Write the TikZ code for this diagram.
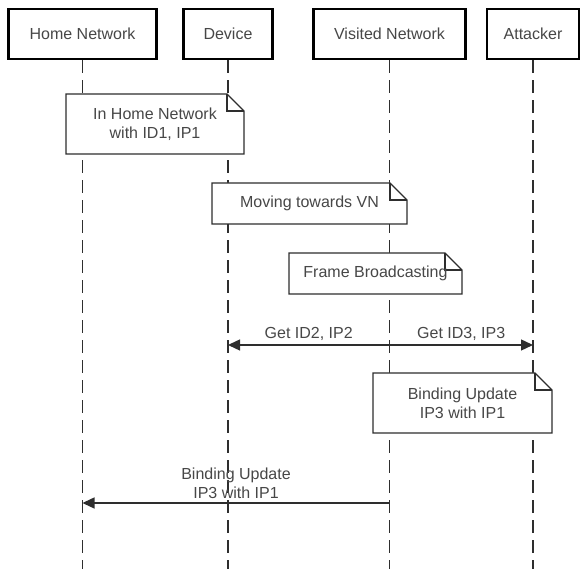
\documentclass[tikz,border=0pt]{standalone}
\usepackage{fontspec}
\setmainfont{Liberation Sans}
\usetikzlibrary{arrows.meta,calc}
\definecolor{linegray}{HTML}{2E2E2E}
\definecolor{txtgray}{HTML}{474747}
\newcommand\dognote[6]{%
  \filldraw[noteline,fill=white] (#2,#3) -- (#4-17,#3) -- (#4,#3+17) -- (#4,#5) -- (#2,#5) -- cycle;
  \draw[noteline] (#4-17,#3) -- (#4-17,#3+17) -- (#4,#3+17);
  \node[notebody] (#1) at ({(#2+#4)/2},{(#3+#5)/2}) {#6};}
\begin{document}
\begin{tikzpicture}[x=1pt,y=-1pt,
  txt/.style={font=\fontsize{16}{19}\selectfont, text=txtgray},
  actor/.style={draw=black, line width=2.3pt, fill=white, txt, inner sep=0pt, minimum height=50pt},
  life/.style={draw=linegray, line width=1.4pt, dash pattern=on 13pt off 7pt},
  msg/.style={draw=linegray, line width=1.4pt, -{Triangle[length=12pt,width=11pt]}},
  notebody/.style={txt, inner sep=0pt, align=center},
  noteline/.style={draw=linegray, line width=1.2pt},
  lbl/.style={txt, inner sep=0pt, align=center}]
\useasboundingbox (0,0) rectangle (582,569);

% actors
\node[actor, minimum width=148pt] (hn) at (82.5,34) {Home Network};
\node[actor, minimum width=89pt] (dev) at (228,34) {Device};
\node[actor, minimum width=152pt] (vn) at (389.5,34) {Visited Network};
\node[actor, minimum width=92pt] (att) at (533,34) {Attacker};

% lifelines
\coordinate (hnE) at (hn |- 0,569);
\coordinate (devE) at (dev |- 0,569);
\coordinate (vnE) at (vn |- 0,569);
\coordinate (attE) at (att |- 0,569);
\draw[life] (hn.south) -- (hnE);
\draw[life] (dev.south) -- (devE);
\draw[life] (vn.south) -- (vnE);
\draw[life] (att.south) -- (attE);

% notes
\dognote{n1}{66}{94}{244}{154}{In Home Network\\ with ID1, IP1}
\dognote{n2}{212}{183}{407}{224}{Moving towards VN}
\dognote{n3}{289}{253}{462}{294}{Frame Broadcasting}

% messages
\coordinate (m1s) at (vn |- 0,345);
\coordinate (m1d) at (dev |- 0,345);
\coordinate (m2d) at (att |- 0,345);
\draw[msg] (m1s) -- (m1d) node[midway, above=4pt, lbl] (l1) {Get ID2, IP2};
\draw[msg] (m1s) -- (m2d) node[midway, above=4pt, lbl] (l2) {Get ID3, IP3};

\dognote{n4}{373}{373}{552}{433}{Binding Update\\IP3 with IP1}

\coordinate (m3s) at (vn |- 0,503);
\coordinate (m3d) at (hn |- 0,503);
\draw[msg] (m3s) -- (m3d) node[midway, above=4pt, lbl] (l3) {Binding Update\\IP3 with IP1};
\end{tikzpicture}
\end{document}
